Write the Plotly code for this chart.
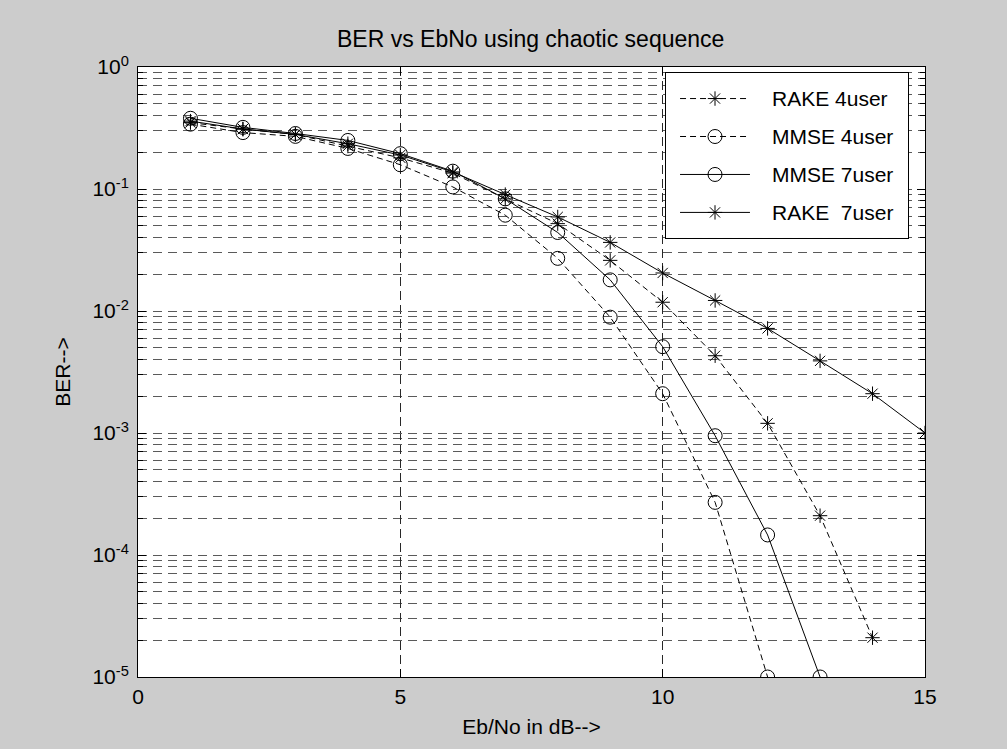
import plotly.graph_objects as go

# ---- data ----
ebno_rake4 = [1, 2, 3, 4, 5, 6, 7, 8, 9, 10, 11, 12, 13, 14]
ber_rake4 = [0.35, 0.31, 0.28, 0.225, 0.18, 0.135, 0.083, 0.052, 0.026,
             0.0118, 0.0043, 0.0012, 0.00021, 2.1e-5]

ebno_mmse4 = [1, 2, 3, 4, 5, 6, 7, 8, 9, 10, 11, 12]
ber_mmse4 = [0.34, 0.29, 0.27, 0.215, 0.158, 0.104, 0.061, 0.027, 0.0089,
             0.0021, 0.00027, 1e-5]

ebno_mmse7 = [1, 2, 3, 4, 5, 6, 7, 8, 9, 10, 11, 12, 13]
ber_mmse7 = [0.38, 0.32, 0.285, 0.25, 0.195, 0.14, 0.083, 0.044, 0.018,
             0.0051, 0.00095, 0.000146, 1e-5]

ebno_rake7 = [1, 2, 3, 4, 5, 6, 7, 8, 9, 10, 11, 12, 13, 14, 15]
ber_rake7 = [0.36, 0.31, 0.28, 0.235, 0.19, 0.138, 0.09, 0.059, 0.0365,
             0.0205, 0.0122, 0.0072, 0.0039, 0.0021, 0.001]

series_names = ["RAKE 4user", "MMSE 4user", "MMSE 7user", "RAKE\u00a0 7user"]
series_dash = ["6px,4px", "6px,4px", "solid", "solid"]
series_symbol = ["asterisk-open", "circle-open", "circle-open", "asterisk-open"]
series_msize = [12, 14, 14, 12]
series_x = [ebno_rake4, ebno_mmse4, ebno_mmse7, ebno_rake7]
series_y = [ber_rake4, ber_mmse4, ber_mmse7, ber_rake7]

x_ticks = [0, 5, 10, 15]
y_ticks = [1e-5, 1e-4, 1e-3, 1e-2, 1e-1, 1]
y_ticktext = ["10<sup>-5</sup>", "10<sup>-4</sup>", "10<sup>-3</sup>",
              "10<sup>-2</sup>", "10<sup>-1</sup>", "10<sup>0</sup>"]
y_minor = [m * 10.0 ** e for e in range(-5, 0) for m in range(2, 10)]

FONT = "Liberation Sans, Arial, sans-serif"
FS = 21

fig = go.Figure()

for xs, ys, name, dash, sym, ms in zip(series_x, series_y, series_names,
                                       series_dash, series_symbol, series_msize):
    fig.add_trace(go.Scatter(
        x=xs, y=ys, name=name, mode="lines+markers", showlegend=False,
        line=dict(color="black", width=1, dash=dash),
        marker=dict(symbol=sym, size=ms, color="black",
                    line=dict(color="black", width=1)),
        xaxis="x", yaxis="y"))

# ---- legend drawn as an inset axes ----
n = len(series_names)
row_y = [0.845 - i * 0.23 for i in range(n)]
for i, (name, dash, sym, ms) in enumerate(zip(series_names, series_dash,
                                              series_symbol, series_msize)):
    fig.add_trace(go.Scatter(
        x=[0.058, 0.347], y=[row_y[i], row_y[i]], mode="lines",
        line=dict(color="black", width=1, dash=dash),
        showlegend=False, hoverinfo="skip", xaxis="x2", yaxis="y2"))
    fig.add_trace(go.Scatter(
        x=[0.2025], y=[row_y[i]], mode="markers",
        marker=dict(symbol=sym, size=ms, color="black",
                    line=dict(color="black", width=1)),
        showlegend=False, hoverinfo="skip", xaxis="x2", yaxis="y2"))
    fig.add_annotation(x=0.43, y=row_y[i], xref="x2", yref="y2",
                       text=name, showarrow=False, xanchor="left",
                       yanchor="middle",
                       font=dict(family=FONT, size=FS, color="black"))

fig.update_layout(
    width=1007, height=749, autosize=False,
    margin=dict(l=138, r=82, t=67, b=72, pad=0),
    paper_bgcolor="#cccccc", plot_bgcolor="white",
    font=dict(family=FONT, size=FS, color="black"),
    title=dict(text="BER vs EbNo using chaotic sequence",
               x=0.527, xanchor="center", y=1 - 39 / 749, yanchor="middle",
               yref="container", font=dict(family=FONT, size=23, color="black")),
    xaxis=dict(
        range=[0, 15], tickmode="array", tickvals=x_ticks,
        ticks="inside", ticklen=8, tickcolor="black", tickwidth=1,
        showline=True, linecolor="black", linewidth=1, mirror="ticks",
        showgrid=True, gridcolor="rgb(40,40,40)", griddash="9px,5px",
        gridwidth=1, zeroline=False, ticklabelstandoff=1,
        title=dict(text="Eb/No in dB-->", standoff=12,
                   font=dict(family=FONT, size=FS)),
    ),
    yaxis=dict(
        type="log", range=[-5, 0], tickmode="array", tickvals=y_ticks,
        ticktext=y_ticktext,
        ticks="inside", ticklen=8, tickcolor="black", tickwidth=1,
        showline=True, linecolor="black", linewidth=1, mirror="ticks",
        showgrid=True, gridcolor="rgb(90,90,90)", griddash="9px,6px",
        gridwidth=1, zeroline=False, ticklabelstandoff=4,
        minor=dict(tickmode="array", tickvals=y_minor, ticks="inside",
                   ticklen=5, tickcolor="black", showgrid=True,
                   gridcolor="rgb(90,90,90)", griddash="9px,6px", gridwidth=1),
        title=dict(text="BER-->", standoff=16,
                   font=dict(family=FONT, size=FS)),
    ),
    xaxis2=dict(domain=[0.6709, 0.9784], range=[0, 1], anchor="y2",
                showgrid=False, zeroline=False, showticklabels=False,
                ticks="", showline=True, linecolor="black", linewidth=1,
                mirror=True, fixedrange=True),
    yaxis2=dict(domain=[0.7197, 0.9902], range=[0, 1], anchor="x2",
                showgrid=False, zeroline=False, showticklabels=False,
                ticks="", showline=True, linecolor="black", linewidth=1,
                mirror=True, fixedrange=True),
)

fig.write_html("out.html")
